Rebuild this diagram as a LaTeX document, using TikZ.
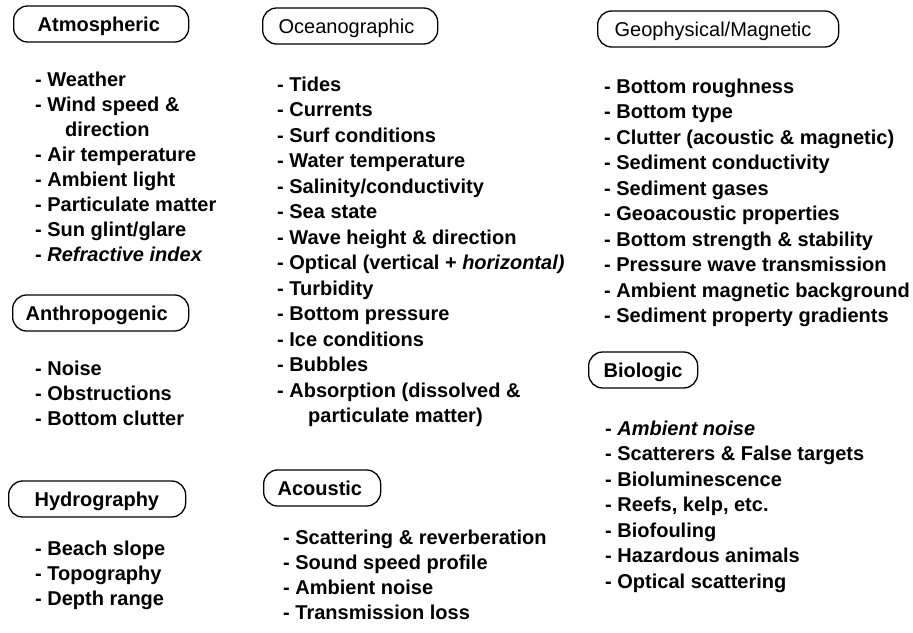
\documentclass[tikz,border=0pt]{standalone}
\usepackage{fontspec}
\setmainfont{Liberation Sans}
\tikzset{
  cat/.style={draw, line width=1.3pt, rounded corners=14pt, minimum height=36pt, text height=14pt, text depth=0pt, inner ysep=0pt, align=left, anchor=west, font=\fontsize{20}{24}\selectfont\bfseries},
  thin cat/.style={cat, font=\fontsize{20}{24}\selectfont},
  item/.style={anchor=base west, inner sep=0pt, font=\fontsize{20}{24}\selectfont\bfseries}
}
\begin{document}
\begin{tikzpicture}[x=1pt, y=-1pt, line join=round, line cap=round]
	\useasboundingbox (0,0) rectangle (913,632);
	% headers
	\node[cat, inner xsep=24pt, text width=127pt] (atmo) at (13,24) {Atmospheric};
	\node[cat, inner xsep=13pt, text width=150pt] (anthro) at (12,313) {Anthropogenic};
	\node[cat, inner xsep=26pt, text width=125pt] (hydro) at (8,499) {Hydrography};
	\node[thin cat, inner xsep=16pt, text width=143pt] (ocean) at (262,26) {Oceanographic};
	\node[cat, inner xsep=14pt, text width=89pt] (acou) at (263,488) {Acoustic};
	\node[thin cat, inner xsep=17pt, text width=207pt] (geo) at (597,29) {Geophysical/Magnetic};
	\node[cat, inner xsep=15pt, text width=79pt] (bio) at (588,370) {Biologic};
	% lists
	\foreach \x/\t [count=\i from 0] in {35/- Weather, 35/- Wind speed \&, 65/direction, 35/- Air temperature, 35/- Ambient light, 35/- Particulate matter, 35/{- Sun glint/glare}, 35/{- \itshape Refractive index}}
		\node[item] (atm\i) at (\x,86+25*\i) {\t};
	\foreach \t [count=\i from 0] in {Noise, Obstructions, Bottom clutter}
		\node[item] (ant\i) at (35,375+25*\i) {- \t};
	\foreach \t [count=\i from 0] in {Beach slope, Topography, Depth range}
		\node[item] (hyd\i) at (35,555+25*\i) {- \t};
	\foreach \x/\t [count=\i from 0] in {277/- Tides, 277/- Currents, 277/- Surf conditions, 277/- Water temperature, 277/{- Salinity/conductivity}, 277/- Sea state, 277/- Wave height \& direction, 277/{- Optical (vertical + \textit{horizontal)}}, 277/- Turbidity, 277/- Bottom pressure, 277/- Ice conditions, 277/- Bubbles, 277/- Absorption (dissolved \&, 308/particulate matter)}
		\node[item] (ocn\i) at (\x,91+25.5*\i) {\t};
	\foreach \t [count=\i from 0] in {Scattering \& reverberation, Sound speed profile, Ambient noise, Transmission loss}
		\node[item] (aco\i) at (283,544+25*\i) {- \t};
	\foreach \t [count=\i from 0] in {Bottom roughness, Bottom type, Clutter (acoustic \& magnetic), Sediment conductivity, Sediment gases, Geoacoustic properties, Bottom strength \& stability, Pressure wave transmission, Ambient magnetic background, Sediment property gradients}
		\node[item] (geo\i) at (604,93+25.5*\i) {- \t};
	\foreach \t [count=\i from 0] in {{\itshape Ambient noise}, Scatterers \& False targets, Bioluminescence, {Reefs, kelp, etc.}, Biofouling, Hazardous animals, Optical scattering}
		\node[item] (bio\i) at (605,435+25.5*\i) {- \t};
\end{tikzpicture}
\end{document}
